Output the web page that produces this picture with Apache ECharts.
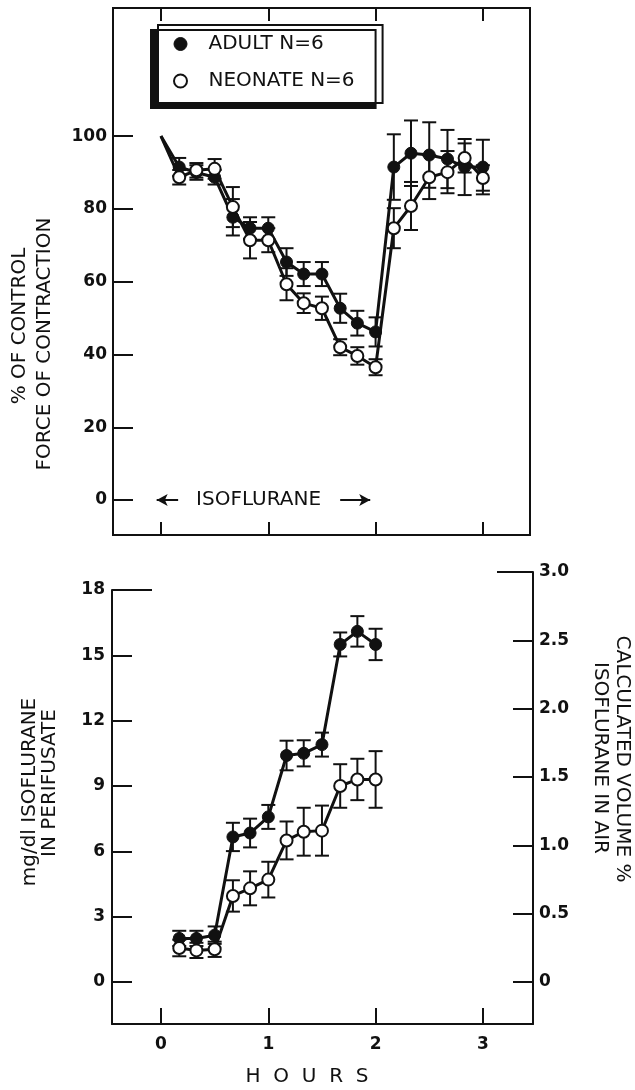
<!DOCTYPE html>
<html>
<head>
<meta charset="utf-8">
<script src="https://cdn.jsdelivr.net/npm/echarts@6/dist/echarts.min.js"></script>
<style>
html, body { margin: 0; padding: 0; background: #fff; }
#chart { width: 635px; height: 1090px; }
</style>
</head>
<body>
<div id="chart"></div>
<script>
// --- data ---
const hoursTop = [0, 0.17, 0.33, 0.5, 0.67, 0.83, 1.0, 1.17, 1.33, 1.5, 1.67, 1.83, 2.0, 2.17, 2.33, 2.5, 2.67, 2.83, 3.0];
const adultForce = [100, 91.5, 90, 88.7, 77.7, 74.7, 74.7, 65.4, 62.1, 62.1, 52.7, 48.6, 46.2, 91.5, 95.3, 94.8, 93.7, 91.5, 91.5];
const adultForceErr = [0, 2.5, 2, 2, 5, 3, 3, 3.8, 3.3, 3.3, 4, 3.4, 4, 9, 9, 9, 8, 7.7, 7.5];
const neoForce = [100, 88.7, 90.6, 91, 80.5, 71.4, 71.4, 59.3, 54.1, 52.7, 42, 39.6, 36.5, 74.7, 80.8, 88.7, 90.1, 94, 88.5];
const neoForceErr = [0, 2, 2, 2.7, 5.5, 5, 3.3, 4.4, 2.7, 3.2, 2.2, 2.4, 2.2, 5.5, 6.6, 6, 5.8, 4, 3.5];

const hoursBottom = [0.17, 0.33, 0.5, 0.67, 0.83, 1.0, 1.17, 1.33, 1.5, 1.67, 1.83, 2.0];
const adultConc = [2.0, 2.0, 2.15, 6.66, 6.84, 7.58, 10.4, 10.5, 10.9, 15.5, 16.1, 15.5];
const adultConcErr = [0.35, 0.35, 0.4, 0.65, 0.66, 0.55, 0.68, 0.6, 0.55, 0.55, 0.7, 0.72];
const neoConc = [1.56, 1.45, 1.5, 3.95, 4.3, 4.7, 6.5, 6.9, 6.95, 9.0, 9.3, 9.3];
const neoConcErr = [0.38, 0.35, 0.35, 0.72, 0.78, 0.82, 0.87, 1.1, 1.15, 1.0, 0.95, 1.3];

const hourTicks = [0, 1, 2, 3];
const forceTicks = [0, 20, 40, 60, 80, 100];
const concTicks = [0, 3, 6, 9, 12, 15, 18];
const volTicks = [0, 0.5, 1.0, 1.5, 2.0, 2.5, 3.0];

// isoflurane exposure annotation (hours)
const isoArrowLeft = [-0.04, 0.16];
const isoArrowRight = [1.67, 1.95];
const isoLabelAt = 0.91;

const FONT = 'DejaVu Sans';
const INK = '#111';

function toPoints(xs, ys) {
  return xs.map((x, i) => i === 0 && ys[i] === 100
    ? { value: [x, ys[i]], symbol: 'none' }
    : [x, ys[i]]);
}
function toBars(xs, ys, es) {
  return xs.map((x, i) => [x, ys[i] - es[i], ys[i] + es[i]]).filter((d, i) => es[i] > 0);
}

function renderBar(params, api) {
  const x = api.value(0);
  const lo = api.coord([x, api.value(1)]);
  const hi = api.coord([x, api.value(2)]);
  const w = 7;
  const st = { stroke: INK, lineWidth: 2 };
  return {
    type: 'group',
    children: [
      { type: 'line', shape: { x1: lo[0], y1: lo[1], x2: hi[0], y2: hi[1] }, style: st },
      { type: 'line', shape: { x1: lo[0] - w, y1: lo[1], x2: lo[0] + w, y2: lo[1] }, style: st },
      { type: 'line', shape: { x1: hi[0] - w, y1: hi[1], x2: hi[0] + w, y2: hi[1] }, style: st }
    ]
  };
}

function barSeries(data, xi, yi) {
  return {
    type: 'custom', xAxisIndex: xi, yAxisIndex: yi,
    renderItem: renderBar, data: data,
    encode: { x: 0, y: [1, 2] }, silent: true
  };
}

const adultStyle = { color: INK, borderColor: INK, borderWidth: 1 };
const neoStyle = { color: '#fff', borderColor: INK, borderWidth: 2 };

function lineSeries(name, data, xi, yi, style, extra) {
  return Object.assign({
    name: name, type: 'line', xAxisIndex: xi, yAxisIndex: yi,
    data: data, symbol: 'circle', symbolSize: 12,
    lineStyle: { color: INK, width: 3 },
    itemStyle: style
  }, extra || {});
}

const tickLabel = { color: INK, fontFamily: FONT, fontSize: 17, fontWeight: 'bold' };
const blackLine = { show: true, onZero: false, lineStyle: { color: INK, width: 2 } };
const noLine = { show: false, onZero: false };
const titleFont = '20px "' + FONT + '"';

function title(text, x, y, rot) {
  return { type: 'text', x: x, y: y, rotation: rot,
    style: { text: text, align: 'center', verticalAlign: 'middle', fill: INK, font: titleFont } };
}

const chart = echarts.init(document.getElementById('chart'));

const option = {
  backgroundColor: '#fff',
  animation: false,
  legend: {
    orient: 'vertical', left: 158, top: 25,
    padding: [8, 28, 11, 15],
    itemWidth: 22, itemHeight: 13, itemGap: 15,
    icon: 'circle',
    backgroundColor: '#fff', borderColor: INK, borderWidth: 2,
    shadowColor: INK, shadowBlur: 0, shadowOffsetX: -7, shadowOffsetY: 5,
    textStyle: { color: INK, fontFamily: FONT, fontSize: 20, lineHeight: 22, padding: [0, 0, 0, 12] },
    data: [
      { name: 'ADULT N=6', itemStyle: adultStyle },
      { name: 'NEONATE N=6', itemStyle: neoStyle }
    ]
  },
  grid: [
    { left: 113, right: 105, top: 8, bottom: 555, show: true, borderColor: INK, borderWidth: 2 },
    { left: 112, right: 102, top: 590, bottom: 66 },
    { left: 112, right: 102, top: 572, bottom: 66 }
  ],
  xAxis: [
    { gridIndex: 0, type: 'value', position: 'bottom', min: -0.447, max: 3.439,
      axisLine: blackLine, splitLine: { show: false },
      axisTick: { inside: true, length: 13, customValues: hourTicks, lineStyle: { color: INK, width: 2 } },
      axisLabel: { show: false } },
    { gridIndex: 0, type: 'value', position: 'top', min: -0.447, max: 3.439,
      axisLine: blackLine, splitLine: { show: false },
      axisTick: { inside: true, length: 13, customValues: hourTicks, lineStyle: { color: INK, width: 2 } },
      axisLabel: { show: false } },
    { gridIndex: 1, type: 'value', position: 'bottom', min: -0.457, max: 3.467,
      axisLine: blackLine, splitLine: { show: false },
      axisTick: { inside: true, length: 16, customValues: hourTicks, lineStyle: { color: INK, width: 2 } },
      axisLabel: Object.assign({ customValues: hourTicks, margin: 12 }, tickLabel) },
    { gridIndex: 2, type: 'value', show: false, min: -0.457, max: 3.467 }
  ],
  yAxis: [
    { gridIndex: 0, type: 'value', position: 'left', min: -9.6, max: 135.2,
      axisLine: blackLine, splitLine: { show: false },
      axisTick: { inside: true, length: 20, customValues: forceTicks, lineStyle: { color: INK, width: 2 } },
      axisLabel: Object.assign({ customValues: forceTicks, margin: 6 }, tickLabel) },
    { gridIndex: 1, type: 'value', position: 'left', min: -1.93, max: 18,
      axisLine: blackLine, splitLine: { show: false },
      axisTick: { inside: true, length: 20, customValues: concTicks.slice(0, 6), lineStyle: { color: INK, width: 2 } },
      axisLabel: Object.assign({ customValues: concTicks, margin: 7 }, tickLabel) },
    { gridIndex: 1, type: 'value', position: 'left', min: -1.93, max: 18,
      axisLine: noLine, splitLine: { show: false },
      axisTick: { inside: true, length: 40, customValues: [18], lineStyle: { color: INK, width: 2 } },
      axisLabel: { show: false } },
    { gridIndex: 2, type: 'value', position: 'right', min: -0.307, max: 3.0,
      axisLine: blackLine, splitLine: { show: false },
      axisTick: { inside: true, length: 20, customValues: volTicks.slice(0, 6), lineStyle: { color: INK, width: 2 } },
      axisLabel: Object.assign({ customValues: volTicks, margin: 6,
        formatter: v => v === 0 ? '0' : v.toFixed(1) }, tickLabel) },
    { gridIndex: 2, type: 'value', position: 'right', min: -0.307, max: 3.0,
      axisLine: noLine, splitLine: { show: false },
      axisTick: { inside: true, length: 36, customValues: [3.0], lineStyle: { color: INK, width: 2 } },
      axisLabel: { show: false } }
  ],
  series: [
    barSeries(toBars(hoursTop, adultForce, adultForceErr), 0, 0),
    barSeries(toBars(hoursTop, neoForce, neoForceErr), 0, 0),
    lineSeries('ADULT N=6', toPoints(hoursTop, adultForce), 0, 0, adultStyle, {
      markLine: {
        silent: true, animation: false,
        lineStyle: { color: INK, width: 2, type: 'solid' },
        symbolSize: [9, 11],
        label: { show: false },
        data: [
          [{ coord: [isoArrowLeft[0], 0], symbol: 'arrow' }, { coord: [isoArrowLeft[1], 0], symbol: 'none' }],
          [{ coord: [isoArrowRight[0], 0], symbol: 'none' }, { coord: [isoArrowRight[1], 0], symbol: 'arrow' }]
        ]
      },
      markPoint: {
        silent: true, animation: false,
        symbol: 'circle', symbolSize: 1,
        itemStyle: { color: 'rgba(0,0,0,0)' },
        label: { show: true, position: 'inside', formatter: 'ISOFLURANE',
          color: INK, fontFamily: FONT, fontSize: 20 },
        data: [{ coord: [isoLabelAt, 0] }]
      }
    }),
    lineSeries('NEONATE N=6', toPoints(hoursTop, neoForce), 0, 0, neoStyle),
    barSeries(toBars(hoursBottom, adultConc, adultConcErr), 2, 1),
    barSeries(toBars(hoursBottom, neoConc, neoConcErr), 2, 1),
    lineSeries('ADULT N=6', toPoints(hoursBottom, adultConc), 2, 1, adultStyle),
    lineSeries('NEONATE N=6', toPoints(hoursBottom, neoConc), 2, 1, neoStyle)
  ],
  graphic: [
    title('% OF CONTROL', 20, 326, Math.PI / 2),
    title('FORCE OF CONTRACTION', 45, 344, Math.PI / 2),
    title('mg/dl ISOFLURANE', 30, 792, Math.PI / 2),
    title('IN PERIFUSATE', 50, 783, Math.PI / 2),
    title('CALCULATED VOLUME %', 622, 759, -Math.PI / 2),
    title('ISOFLURANE IN AIR', 600, 758, -Math.PI / 2),
    title('H  O  U  R  S', 307, 1077, 0)
  ]
};

chart.setOption(option);
</script>
</body>
</html>
